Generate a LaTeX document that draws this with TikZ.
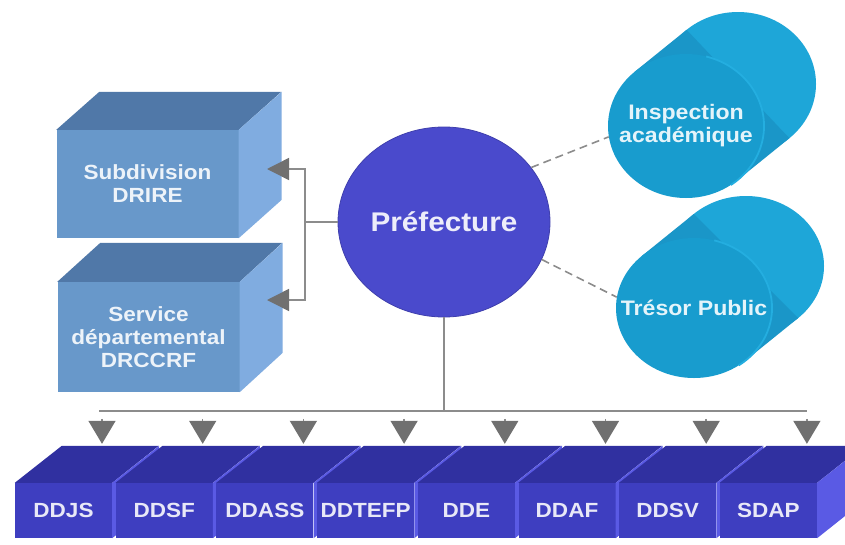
\documentclass[tikz,border=0pt]{standalone}
\usepackage{fontspec}
\setmainfont{Liberation Sans}[FakeStretch=1.1]
\usetikzlibrary{shapes.geometric,arrows.meta,calc}
\definecolor{bfront}{RGB}{104,152,202}
\definecolor{btop}{RGB}{80,120,168}
\definecolor{bright}{RGB}{128,172,224}
\definecolor{prefc}{RGB}{74,74,204}
\definecolor{cyl}{RGB}{30,166,216}
\definecolor{cylback}{RGB}{26,150,200}
\definecolor{cylfront}{RGB}{24,156,206}
\definecolor{cyledge}{RGB}{36,174,224}
\definecolor{dfront}{RGB}{62,62,192}
\definecolor{dtop}{RGB}{48,48,160}
\definecolor{dright}{RGB}{90,90,228}
\definecolor{linegray}{RGB}{140,140,140}
\definecolor{tipgray}{RGB}{112,112,112}
\begin{document}
\begin{tikzpicture}[x=1pt,y=-1pt,
  upbox/.style={rectangle, fill=bfront, minimum width=182pt, inner sep=0pt,
    text=white!88!bfront, font=\bfseries\fontsize{20.5}{23}\selectfont, align=center},
  lowbox/.style={rectangle, fill=dfront, minimum width=97pt, minimum height=55pt, inner sep=0pt,
    text=white!88!dfront, font=\bfseries\fontsize{20.5}{23}\selectfont},
  disc/.style={ellipse, fill=cylfront, minimum width=156pt,
    inner sep=0pt, text=white!88!cyl, font=\bfseries\fontsize{21}{23}\selectfont, align=center},
  conn/.style={draw=linegray, line width=1.5pt},
  sidetip/.style={-{Triangle[length=22pt,width=22pt,color=tipgray,fill=tipgray]}},
  downtip/.style={shorten <=8pt, -{Triangle[length=23pt,width=27pt,color=tipgray,fill=tipgray]}},
  dashline/.style={draw=linegray, line width=1.6pt, dash pattern=on 8pt off 5pt},
  rim/.style={draw=cyledge, line width=1.8pt}
]
\clip (0,0) rectangle (845,544);
\fill[white] (0,0) rectangle (845,544);

% upper left boxes
\node[upbox, minimum height=108pt] (drire) at (147.5,184) {Subdivision\\DRIRE};
\fill[btop] (drire.north west) -- ++(43,-38) -- ++(182,0) -- (drire.north east) -- cycle;
\fill[bright] (drire.north east) -- ++(43,-38) -- ++(0,108) -- (drire.south east) -- cycle;

\node[upbox, minimum height=110pt] (drcc) at (148.5,337) {Service\\départemental\\DRCCRF};
\fill[btop] (drcc.north west) -- ++(43,-39) -- ++(182,0) -- (drcc.north east) -- cycle;
\fill[bright] (drcc.north east) -- ++(43,-39) -- ++(0,110) -- (drcc.south east) -- cycle;

% prefecture
\node[ellipse, fill=prefc, draw=prefc!85!black, line width=0.8pt, minimum width=212pt,
  minimum height=190pt, inner sep=0pt, text=white!90!prefc,
  font=\bfseries\fontsize{27}{30}\selectfont] (pref) at (444,222) {\makebox[0pt]{Préfecture}};

% cylinders
\coordinate (tresC) at (694,308);
\fill[cyl] ($(tresC)+(52,-42)$) ellipse [x radius=78pt, y radius=70pt];
\fill[cylback] ($(tresC)+(52.2,52)$) -- ($(tresC)+(104.2,10)$) -- ($(tresC)+(-0.2,-94)$) -- ($(tresC)+(-52.2,-52)$) -- cycle;
\node[disc, minimum height=140pt] (tres) at (tresC) {\makebox[0pt]{Trésor Public}};
\draw[rim] ($(tresC)+(20.2,-67.6)$) arc[start angle=75, end angle=-55, x radius=78pt, y radius=70pt];

\coordinate (inspC) at (686,126);
\fill[cyl] ($(inspC)+(52,-42)$) ellipse [x radius=78pt, y radius=72pt];
\fill[cylback] ($(inspC)+(51.4,54.2)$) -- ($(inspC)+(103.4,12.2)$) -- ($(inspC)+(0.6,-96.2)$) -- ($(inspC)+(-51.4,-54.2)$) -- cycle;
\node[disc, minimum height=144pt] (insp) at (inspC) {\makebox[0pt]{Inspection}\\\makebox[0pt]{académique}};
\draw[rim] ($(inspC)+(20.2,-69.5)$) arc[start angle=75, end angle=-55, x radius=78pt, y radius=72pt];

% dashed links
\draw[dashline] (pref.32) -- (insp.188);
\draw[dashline] (pref.339) -- (tres.172);

% links to left boxes
\coordinate (jn) at (305,222);
\coordinate (drireR) at (267,169);
\coordinate (drccR) at (267,300);
\draw[conn] (pref.west) -- (jn);
\draw[conn, sidetip] (jn) |- (drireR);
\draw[conn, sidetip] (jn) |- (drccR);

% bottom boxes
\foreach \i/\t in {0/DDJS,1/DDSF,2/DDASS,3/DDTEFP,4/DDE,5/DDAF,6/DDSV,7/SDAP}{
  \node[lowbox] (b\i) at ({63.5+100.7*\i},510.5) {\t};
  \fill[dtop] (b\i.north west) -- ++(47,-37) -- ++(97,0) -- (b\i.north east) -- cycle;
  \fill[dright] (b\i.north east) -- ++(47,-37) -- ++(0,55) -- (b\i.south east) -- cycle;
  \coordinate (t\i) at ($(b\i.north)+(38.5,-72)$);
  \coordinate (a\i) at ($(b\i.north)+(38.5,-39)$);
}
\coordinate (busL) at ($(t0)+(-3,0)$);
\draw[conn] (busL) -- (t7);
\draw[conn] (pref.south) -- (pref.south |- t0);
\foreach \i in {0,...,7}{
  \draw[conn, downtip] (t\i) -- (a\i);
}
\end{tikzpicture}
\end{document}
